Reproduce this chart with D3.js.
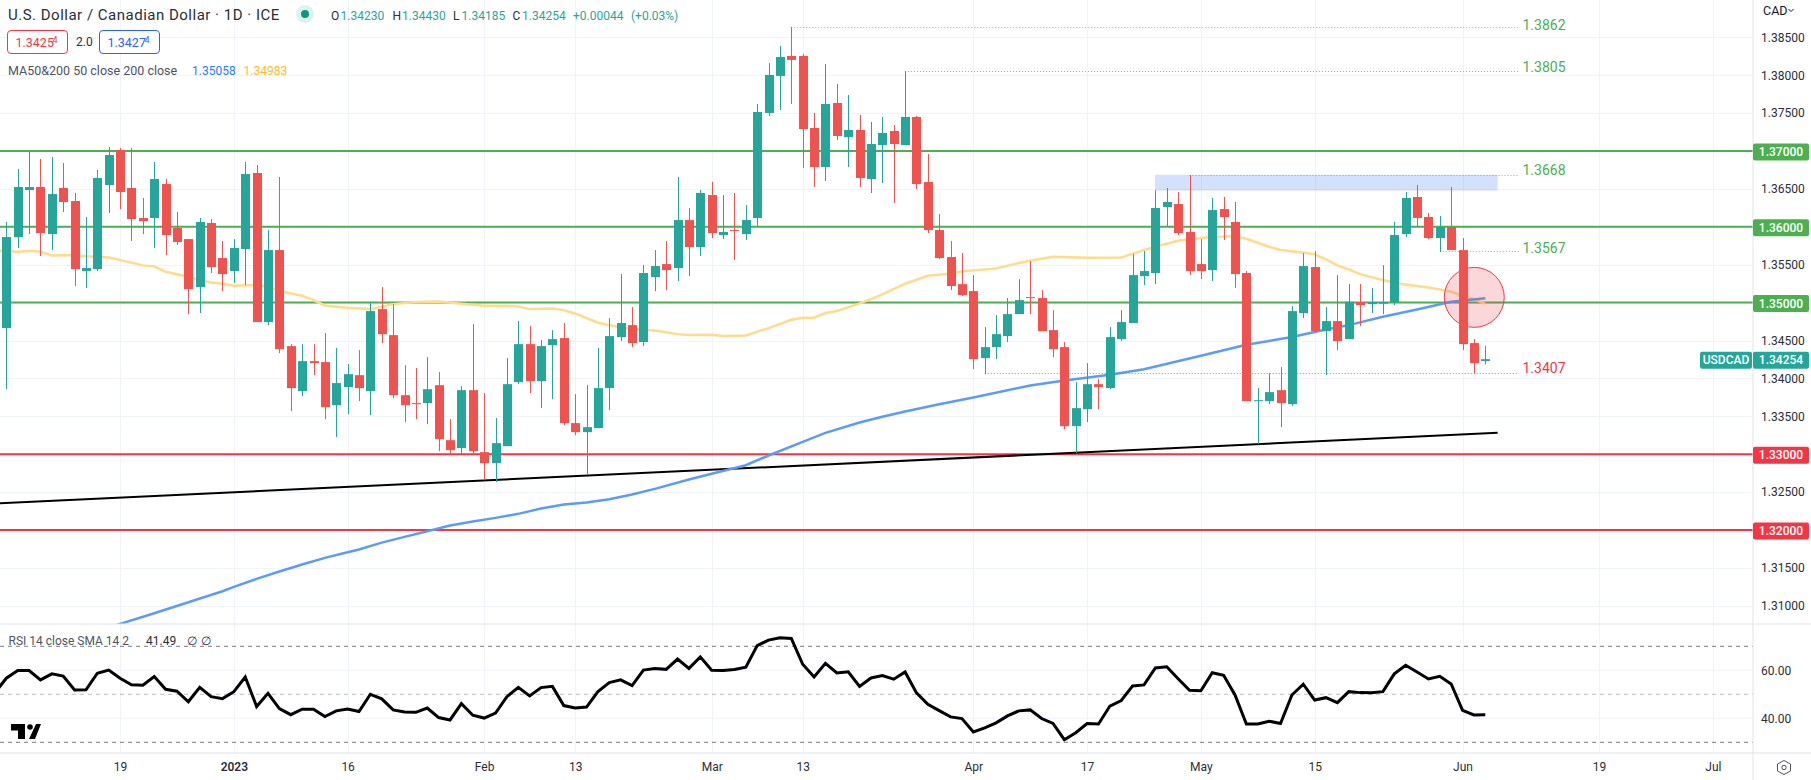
<!DOCTYPE html>
<html>
<head>
<meta charset="utf-8">
<title>USDCAD</title>
<script src="https://cdn.jsdelivr.net/npm/d3@7"></script>
<style>
  html, body { margin: 0; padding: 0; background: #fff; overflow: hidden; }
  text { font-family: Roboto, "Noto Sans", sans-serif; }
  .tick text { fill: #2a2e39; font-size: 12px; }
</style>
</head>
<body>
<div id="chart"></div>
<script>
// daily candles, bar 0 is the first one on screen
const opens = [1.34664,1.35865,1.36485,1.36525,1.35904,1.36512,1.3634,1.35416,1.35442,1.36551,1.37013,1.36512,1.36116,1.36116,1.36564,1.35984,1.35838,1.35205,1.3605,1.35588,1.35416,1.35706,1.3671,1.34743,1.35693,1.34426,1.33832,1.34228,1.34215,1.33647,1.33885,1.34043,1.33832,1.34914,1.34571,1.33779,1.33674,1.33674,1.33911,1.33185,1.3308,1.33845,1.33027,1.32882,1.33106,1.33951,1.34452,1.33964,1.34439,1.34532,1.3341,1.33291,1.33344,1.33872,1.34545,1.34703,1.34479,1.35337,1.35508,1.35456,1.36089,1.35733,1.36419,1.35891,1.35957,1.35904,1.36116,1.37502,1.3799,1.38254,1.38254,1.37304,1.36789,1.37634,1.37185,1.37277,1.3663,1.37079,1.37264,1.37079,1.37449,1.36591,1.35957,1.35601,1.35244,1.35152,1.34268,1.34413,1.34558,1.34848,1.35073,1.3506,1.34637,1.34413,1.3337,1.33594,1.33924,1.33872,1.34518,1.3473,1.3535,1.3539,1.36261,1.363,1.35931,1.35508,1.35429,1.36234,1.36063,1.3539,1.337,1.337,1.33845,1.3366,1.34862,1.35469,1.34624,1.34756,1.34518,1.35007,1.3498,1.34985,1.35007,1.35904,1.36393,1.36129,1.35852,1.35997,1.35693,1.34466,1.3423];
const highs = [1.36063,1.36762,1.36987,1.36894,1.36921,1.36842,1.36446,1.36129,1.36749,1.37053,1.3704,1.3704,1.3638,1.36855,1.3663,1.36195,1.35838,1.36116,1.36102,1.35812,1.35838,1.36855,1.36815,1.35957,1.36657,1.34452,1.34452,1.34452,1.34598,1.344,1.34188,1.34373,1.35007,1.35205,1.3498,1.34175,1.34136,1.34281,1.34083,1.33462,1.33898,1.34716,1.33806,1.33476,1.34268,1.34756,1.3469,1.34505,1.34637,1.3473,1.33792,1.33911,1.344,1.34796,1.35376,1.34941,1.35495,1.35693,1.35812,1.36657,1.36248,1.36485,1.36591,1.36419,1.36446,1.36287,1.3762,1.38162,1.38386,1.38637,1.3828,1.37502,1.38148,1.37884,1.37739,1.37475,1.37383,1.37449,1.37343,1.38056,1.37462,1.3696,1.36168,1.35812,1.35654,1.35363,1.34677,1.34835,1.3506,1.3531,1.35548,1.35165,1.34901,1.34479,1.33951,1.34202,1.3399,1.34677,1.34901,1.3564,1.3568,1.36485,1.36512,1.36459,1.36683,1.35838,1.3638,1.36393,1.36327,1.35416,1.33872,1.3407,1.34149,1.34954,1.35654,1.3568,1.34941,1.35363,1.35244,1.35244,1.35192,1.35495,1.36063,1.36459,1.36551,1.36182,1.36142,1.36525,1.35852,1.34518,1.3443];
const lows = [1.33858,1.3572,1.35904,1.35614,1.35693,1.36195,1.35218,1.35192,1.35416,1.36182,1.36234,1.35812,1.35904,1.3572,1.35627,1.35759,1.34848,1.34862,1.3539,1.35152,1.35258,1.35231,1.34743,1.34703,1.34334,1.33568,1.33766,1.34043,1.33462,1.33225,1.33528,1.337,1.33515,1.34466,1.3374,1.33423,1.33462,1.33396,1.3304,1.33,1.33,1.33,1.32657,1.32631,1.33106,1.33924,1.33806,1.33608,1.33726,1.33383,1.33251,1.32736,1.33344,1.33581,1.34492,1.34413,1.34426,1.35152,1.35165,1.35284,1.3535,1.35614,1.35852,1.35838,1.35561,1.35825,1.3601,1.37462,1.37541,1.3762,1.36776,1.36525,1.36604,1.37145,1.36789,1.36525,1.36446,1.36578,1.36314,1.37079,1.36498,1.35918,1.35574,1.35165,1.35086,1.34122,1.34056,1.34254,1.34479,1.34848,1.34848,1.34624,1.34281,1.3333,1.33014,1.33423,1.33594,1.33858,1.34492,1.3473,1.35231,1.35244,1.3601,1.35891,1.35363,1.3531,1.35284,1.35825,1.35192,1.337,1.33132,1.3366,1.33357,1.33634,1.34796,1.34598,1.34043,1.34373,1.34518,1.3469,1.34862,1.34848,1.34967,1.35865,1.3601,1.35838,1.35667,1.35693,1.34373,1.3407,1.34185];
const closes = [1.35865,1.36525,1.36525,1.35918,1.36432,1.36327,1.35442,1.35456,1.36644,1.36947,1.36459,1.36102,1.36076,1.3663,1.35891,1.35799,1.35178,1.36063,1.35469,1.35376,1.3572,1.36696,1.34743,1.35693,1.34386,1.33872,1.34228,1.34202,1.33621,1.33938,1.34056,1.33872,1.34888,1.34584,1.33779,1.33647,1.3366,1.33858,1.33198,1.33053,1.33845,1.3304,1.32882,1.33146,1.33924,1.34452,1.33964,1.34426,1.34518,1.3341,1.33291,1.33357,1.33872,1.34558,1.3473,1.34466,1.3539,1.35482,1.35429,1.36089,1.35733,1.36446,1.35918,1.35931,1.35944,1.36089,1.37515,1.38003,1.38241,1.38201,1.3729,1.36789,1.3762,1.37198,1.37277,1.36644,1.37092,1.37238,1.37092,1.37449,1.36564,1.35957,1.35588,1.35218,1.35099,1.34254,1.34413,1.34584,1.34848,1.35033,1.3506,1.34624,1.34386,1.3337,1.33608,1.33924,1.33885,1.34545,1.34743,1.35363,1.35416,1.36248,1.36327,1.35918,1.35416,1.35416,1.36221,1.36129,1.35376,1.337,1.33713,1.33819,1.33674,1.34888,1.35482,1.34624,1.34756,1.34492,1.35011,1.34967,1.35007,1.35007,1.35891,1.3638,1.36116,1.35852,1.35997,1.35693,1.34452,1.34202,1.34254];

// moving averages, sampled at the bars where the line visibly bends
const ma50Bars = [-1,0,1,2,3,4,6,7,9,10,12,13,14,16,17,18,19,20,22,23,24,25,26,27,28,30,32,33,34,36,38,40,42,44,45,46,48,49,50,52,53,54,56,57,59,60,62,63,65,67,69,70,71,72,73,75,76,77,79,81,82,83,84,87,89,90,92,95,98,100,101,103,104,106,108,109,111,112,114,115,116,117,118,119,121,122,123,125,126,127,128,129,130];
const ma50Vals = [1.35684,1.35684,1.35667,1.35684,1.35671,1.35623,1.35627,1.3561,1.35596,1.35561,1.35491,1.35478,1.35407,1.35341,1.35297,1.35266,1.35249,1.35222,1.35231,1.35209,1.35152,1.35121,1.3509,1.35033,1.34963,1.34932,1.34914,1.34945,1.3498,1.35007,1.35016,1.34985,1.34958,1.34958,1.3495,1.34914,1.34923,1.34901,1.34857,1.34734,1.34703,1.34672,1.34637,1.34633,1.34584,1.34571,1.34576,1.34558,1.34567,1.34664,1.34774,1.348,1.348,1.34862,1.34888,1.34989,1.35046,1.35108,1.35249,1.35354,1.35368,1.35385,1.35412,1.35451,1.35522,1.35552,1.35605,1.35592,1.35596,1.35693,1.35737,1.35816,1.35838,1.35865,1.35878,1.35843,1.35737,1.35693,1.35662,1.35636,1.3557,1.35491,1.35438,1.35376,1.35297,1.35262,1.3524,1.352,1.35174,1.35143,1.3509,1.35046,1.34983];
const ma200Bars = [8,10,13,16,19,20,22,24,26,28,30,31,33,35,37,39,41,43,45,47,49,51,53,55,57,60,62,65,67,70,72,75,77,79,82,85,90,93,97,100,105,109,113,116,118,121,124,127,130];
const ma200Vals = [1.30664,1.30761,1.30902,1.31047,1.31192,1.31249,1.31355,1.31452,1.31544,1.31632,1.31707,1.31742,1.31834,1.31909,1.31984,1.32059,1.32112,1.3216,1.32213,1.32283,1.32336,1.32362,1.32406,1.32468,1.32543,1.32666,1.32741,1.32855,1.32983,1.33163,1.33282,1.33418,1.33493,1.33564,1.3366,1.33748,1.33907,1.33973,1.34048,1.34122,1.34298,1.34444,1.34545,1.34646,1.34703,1.34813,1.3491,1.35011,1.35058];

// RSI, first value belongs to the bar just off screen on the left
const rsiVals = [50.7,56.7,59.9,59.9,56.0,58.5,57.6,51.8,51.9,58.8,60.1,56.7,54.0,53.8,57.4,52.1,51.3,46.9,52.9,49.0,48.2,51.1,57.2,44.9,50.4,44.0,41.5,43.8,43.8,40.7,43.1,43.9,42.8,50.0,48.1,43.5,42.6,42.5,44.3,40.3,39.3,46.1,41.3,40.1,42.2,49.0,52.9,49.3,52.8,53.3,45.3,44.3,44.7,51.1,54.9,56.0,53.6,60.1,60.7,60.4,64.7,60.8,65.6,60.0,59.9,60.3,61.3,70.3,72.6,73.6,73.3,62.5,57.2,62.9,58.9,59.4,53.3,56.8,57.8,56.3,59.3,50.6,45.8,43.2,40.6,39.9,34.3,36.0,38.1,41.0,43.1,43.5,39.9,37.9,31.1,34.0,37.8,37.6,45.1,47.4,53.5,53.9,61.0,61.5,56.5,51.7,51.5,59.0,57.9,49.7,37.6,37.6,38.8,37.8,49.7,54.2,47.6,48.6,46.5,51.1,50.7,50.6,51.1,58.5,62.1,59.3,56.4,57.5,54.3,43.3,41.4,41.49];

// axis
const priceTicks = [1.385,1.38,1.375,1.37,1.365,1.36,1.355,1.35,1.345,1.34,1.335,1.33,1.325,1.32,1.315,1.31];
const timeBars = [10,20,30,42,50,62,70,85,95,105,115,128,140,150];
const timeLabels = ["19","2023","16","Feb","13","Mar","13","Apr","17","May","15","Jun","19","Jul"];
const rsiTicks = [60,40];

// drawn levels
const greenLevels = [1.37,1.36,1.35];
const redLevels = [1.33,1.32];
const markLabels = ["1.3862","1.3805","1.3668","1.3567","1.3407"];
const markPrices = [1.38637,1.38056,1.36687,1.35684,1.34073];
const markStart = [69,79,104,126,86];
const markLift = [2,4,4.5,3,4.5];
const trendBars = [-0.56,131.08];
const trendPrices = [1.32353,1.33282];
const zoneBars = [100.97,131.08];
const zonePrices = [1.36686,1.36479];
const circleBar = 129.03, circlePrice = 1.35069;

const W = 1811, H = 780, axisX = 1753, paneBottom = 624, rsiBottom = 753;
const GREEN = "#4caf50", RED = "#f23645", TEAL = "#26a69a", CANDLE_RED = "#ef5350";

const x = d3.scaleLinear().domain([0, 130]).range([6.33, 1485.3]);
const y = d3.scaleLinear().domain([1.37, 1.32]).range([151, 530]);
const yRsi = d3.scaleLinear().domain([70, 30]).range([646.3, 742.3]);

const svg = d3.select("#chart").append("svg")
  .attr("width", W).attr("height", H)
  .style("display", "block");

const defs = svg.append("defs");
defs.append("clipPath").attr("id", "mainClip").append("rect")
  .attr("width", axisX).attr("height", paneBottom);
defs.append("clipPath").attr("id", "rsiClip").append("rect")
  .attr("y", paneBottom).attr("width", axisX).attr("height", rsiBottom - paneBottom);

// grid
const grid = svg.append("g").attr("stroke", "#f0f3fa").attr("stroke-width", 1);
grid.selectAll(".vg").data(timeBars).join("line")
  .attr("x1", d => Math.round(x(d)) + 0.5).attr("x2", d => Math.round(x(d)) + 0.5)
  .attr("y1", 0).attr("y2", rsiBottom);
grid.selectAll(".hg").data(priceTicks).join("line")
  .attr("x1", 0).attr("x2", axisX)
  .attr("y1", d => Math.round(y(d)) + 0.5).attr("y2", d => Math.round(y(d)) + 0.5);
grid.selectAll(".rg").data(rsiTicks).join("line")
  .attr("x1", 0).attr("x2", axisX)
  .attr("y1", d => yRsi(d)).attr("y2", d => yRsi(d));

const main = svg.append("g").attr("clip-path", "url(#mainClip)");

// horizontal levels
main.selectAll(".green").data(greenLevels).join("line")
  .attr("x1", 0).attr("x2", axisX)
  .attr("y1", d => y(d)).attr("y2", d => y(d))
  .attr("stroke", GREEN).attr("stroke-width", 2);
main.selectAll(".red").data(redLevels).join("line")
  .attr("x1", 0).attr("x2", axisX)
  .attr("y1", d => y(d)).attr("y2", d => y(d))
  .attr("stroke", RED).attr("stroke-width", 2);

// trend line
main.append("line")
  .attr("x1", x(trendBars[0])).attr("y1", y(trendPrices[0]))
  .attr("x2", x(trendBars[1])).attr("y2", y(trendPrices[1]))
  .attr("stroke", "#000").attr("stroke-width", 2);

// MAs
const lineOf = (bars, vals) => d3.line().x((d, i) => x(bars[i])).y(d => y(d))(vals);
main.append("path").attr("d", lineOf(ma50Bars, ma50Vals))
  .attr("fill", "none").attr("stroke", "#ffdb8a").attr("stroke-width", 2.5);
main.append("path").attr("d", lineOf(ma200Bars, ma200Vals))
  .attr("fill", "none").attr("stroke", "#5b9cf6").attr("stroke-width", 2.5);

// supply zone
main.append("rect")
  .attr("x", x(zoneBars[0])).attr("width", x(zoneBars[1]) - x(zoneBars[0]))
  .attr("y", y(zonePrices[0])).attr("height", y(zonePrices[1]) - y(zonePrices[0]))
  .attr("fill", "#2962ff").attr("fill-opacity", 0.2);

// dotted marks
main.selectAll(".mark").data(markPrices).join("line")
  .attr("x1", (d, i) => x(markStart[i])).attr("x2", 1519)
  .attr("y1", d => Math.round(y(d)) + 0.5).attr("y2", d => Math.round(y(d)) + 0.5)
  .attr("stroke", (d, i) => i == 4 ? RED : GREEN)
  .attr("stroke-opacity", 0.75)
  .attr("stroke-dasharray", "1 2");

// circle
main.append("circle")
  .attr("cx", x(circleBar)).attr("cy", y(circlePrice)).attr("r", 30)
  .attr("fill", RED).attr("fill-opacity", 0.2)
  .attr("stroke", RED).attr("stroke-width", 1);

// candles
const bars = d3.range(opens.length);
const colorOf = i => closes[i] >= opens[i] ? TEAL : CANDLE_RED;
main.selectAll(".wick").data(bars).join("line")
  .attr("x1", i => Math.round(x(i)) + 0.5).attr("x2", i => Math.round(x(i)) + 0.5)
  .attr("y1", i => y(highs[i])).attr("y2", i => y(lows[i]))
  .attr("stroke", colorOf).attr("stroke-width", 1);
main.selectAll(".body").data(bars).join("rect")
  .attr("x", i => Math.round(x(i)) - 4).attr("width", 9)
  .attr("y", i => y(Math.max(opens[i], closes[i])))
  .attr("height", i => Math.max(1, Math.abs(y(opens[i]) - y(closes[i]))))
  .attr("fill", colorOf);

// labels of the dotted marks
svg.selectAll(".markLabel").data(markLabels).join("text")
  .attr("x", 1522.5)
  .attr("y", (d, i) => y(markPrices[i]) - markLift[i])
  .attr("dy", "0.35em")
  .attr("font-size", 14)
  .attr("fill", (d, i) => i == 4 ? RED : GREEN)
  .text(d => d);

// RSI pane
const rsiPane = svg.append("g").attr("clip-path", "url(#rsiClip)");
rsiPane.selectAll(".bandLine").data([70, 50, 30]).join("line")
  .attr("x1", 0).attr("x2", axisX)
  .attr("y1", d => yRsi(d)).attr("y2", d => yRsi(d))
  .attr("stroke", "#787b86")
  .attr("stroke-opacity", d => d == 50 ? 0.5 : 1)
  .attr("stroke-dasharray", "4 4");
rsiPane.append("path")
  .attr("d", d3.line().x((d, i) => x(i - 1)).y(d => yRsi(d))(rsiVals))
  .attr("fill", "none").attr("stroke", "#000").attr("stroke-width", 3);

// pane borders
svg.append("line").attr("x1", 0).attr("x2", W).attr("y1", paneBottom).attr("y2", paneBottom)
  .attr("stroke", "#e0e3eb").attr("stroke-width", 1);
svg.append("line").attr("x1", 0).attr("x2", W).attr("y1", rsiBottom).attr("y2", rsiBottom)
  .attr("stroke", "#e0e3eb").attr("stroke-width", 1);
svg.append("line").attr("x1", axisX).attr("x2", axisX).attr("y1", 0).attr("y2", H)
  .attr("stroke", "#e0e3eb").attr("stroke-width", 1);

// price axis
const badgeValues = greenLevels.concat(redLevels);
const yAxis = d3.axisRight(y)
  .tickValues(priceTicks.filter(d => !badgeValues.includes(d)))
  .tickFormat(d3.format(".5f"))
  .tickSize(0).tickPadding(8);
svg.append("g").attr("transform", `translate(${axisX},0)`).call(yAxis)
  .call(g => g.select(".domain").remove());

const rsiAxis = d3.axisRight(yRsi)
  .tickValues(rsiTicks)
  .tickFormat(d3.format(".2f"))
  .tickSize(0).tickPadding(8);
svg.append("g").attr("transform", `translate(${axisX},0)`).call(rsiAxis)
  .call(g => g.select(".domain").remove());

// time axis
const timeAxis = d3.axisBottom(x)
  .tickValues(timeBars)
  .tickFormat((d, i) => timeLabels[i])
  .tickSize(0).tickPadding(9.5);
svg.append("g").attr("transform", `translate(0,${rsiBottom})`).call(timeAxis)
  .call(g => g.select(".domain").remove())
  .call(g => g.selectAll(".tick text").attr("font-weight", d => d == 20 ? 600 : 400));

// price badges
function badge(px, bw, cy, color, label) {
  svg.append("rect").attr("x", px).attr("y", cy - 8.5).attr("width", bw).attr("height", 17)
    .attr("rx", 2).attr("fill", color);
  svg.append("text").attr("x", px + bw / 2).attr("y", cy).attr("dy", "0.35em")
    .attr("text-anchor", "middle").attr("font-size", 12).attr("fill", "#fff")
    .attr("font-weight", 500).text(label);
}
greenLevels.forEach(d => badge(axisX, 56, y(d) + 1, GREEN, d3.format(".5f")(d)));
redLevels.forEach(d => badge(axisX, 56, y(d) + 1, RED, d3.format(".5f")(d)));
badge(1700, 52, y(closes[130]) + 1, TEAL, "USDCAD");
badge(axisX, 56, y(closes[130]) + 1, TEAL, d3.format(".5f")(closes[130]));

// legend text
function label(px, py, str, color, size, anchor) {
  return svg.append("text").attr("x", px).attr("y", py).attr("dy", "0.35em")
    .attr("font-size", size || 14).attr("fill", color || "#2a2e39")
    .attr("text-anchor", anchor || "start").text(str);
}
label(8, 15, "U.S. Dollar / Canadian Dollar · 1D · ICE", "#2a2e39", 15).attr("letter-spacing", 0.5);
svg.append("circle").attr("cx", 305).attr("cy", 14).attr("r", 9).attr("fill", "#dff2ef");
svg.append("circle").attr("cx", 305).attr("cy", 14).attr("r", 4).attr("fill", "#089981");
[["O", 331, "1.34230", 340.5], ["H", 392.5, "1.34430", 402], ["L", 453, "1.34185", 461.5], ["C", 512.5, "1.34254", 522]]
  .forEach(d => { label(d[1], 15.5, d[0], "#2a2e39", 12); label(d[3], 15.5, d[2], TEAL, 12); });
label(573, 15.5, "+0.00044", TEAL, 12);
label(631, 15.5, "(+0.03%)", TEAL, 12);

svg.append("rect").attr("x", 7.5).attr("y", 30.5).attr("width", 60).attr("height", 23).attr("rx", 3.5)
  .attr("fill", "#fff").attr("stroke", RED);
svg.append("rect").attr("x", 99.5).attr("y", 30.5).attr("width", 60).attr("height", 23).attr("rx", 3.5)
  .attr("fill", "#fff").attr("stroke", "#2962ff");
label(15.5, 42.5, "1.3425", RED, 12.5);
label(52.5, 40, "4", RED, 9);
label(76, 42, "2.0", "#2a2e39", 12);
label(107.5, 42.5, "1.3427", "#2962ff", 12.5);
label(144.5, 40, "4", "#2962ff", 9);

label(8, 70.5, "MA50&200 50 close 200 close", "#50535e", 12.5);
label(192, 70.5, "1.35058", "#2979ff", 12);
label(243.5, 70.5, "1.34983", "#ffb92e", 12);

label(8.5, 641, "RSI 14 close SMA 14 2", "#50535e", 12);
label(146, 641, "41.49", "#2a2e39", 12);
label(187, 641, "∅", "#2a2e39", 12);
label(201, 641, "∅", "#2a2e39", 12);

label(1763, 10.5, "CAD", "#131722", 12.5);
svg.append("path").attr("d", "M1788.5 9l2.5 2.5 2.5-2.5").attr("fill", "none").attr("stroke", "#131722").attr("stroke-width", 1);

// logo
svg.append("path").attr("fill", "#000")
  .attr("d", "M11 724h14v15h-7v-8.5h-7zM36 724h5l-6 15h-6z");
svg.append("circle").attr("cx", 30).attr("cy", 727).attr("r", 2.8).attr("fill", "#000");

// settings icon
svg.append("path").attr("fill", "none").attr("stroke", "#50535e").attr("stroke-width", 1)
  .attr("d", "M1784 760.5l6.5 3.5v7l-6.5 3.5-6.5-3.5v-7z");
svg.append("circle").attr("cx", 1784).attr("cy", 767.5).attr("r", 2.2)
  .attr("fill", "none").attr("stroke", "#50535e");
</script>
</body>
</html>
